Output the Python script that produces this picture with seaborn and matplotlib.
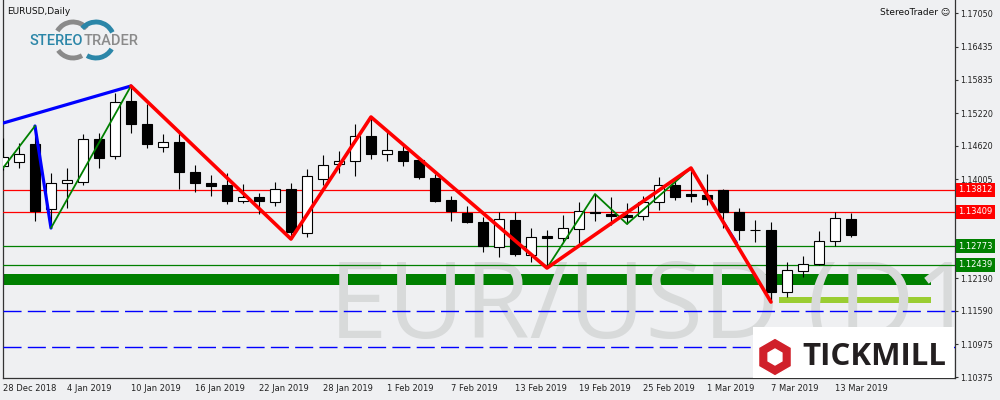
import numpy as np
import pandas as pd
import matplotlib.pyplot as plt
import seaborn as sns
from matplotlib.patches import Rectangle, RegularPolygon, Arc
from matplotlib.transforms import blended_transform_factory, IdentityTransform

# EURUSD daily candles, 28 Dec 2018 .. 14 Mar 2019 (one entry per trading day)
opens = [1.14248, 1.14321, 1.14652, 1.13459, 1.13936, 1.13954, 1.14743, 1.14431, 1.15441, 1.15019,
         1.14597, 1.14688, 1.14138, 1.13936, 1.13899, 1.13606, 1.13679, 1.13587, 1.13826, 1.13018,
         1.14009, 1.14285, 1.14340, 1.14798, 1.14468, 1.14523, 1.14358, 1.14028, 1.13624, 1.13385,
         1.13220, 1.12762, 1.13257, 1.12615, 1.12963, 1.12927, 1.13092, 1.13404, 1.13367, 1.13349,
         1.13330, 1.13587, 1.13899, 1.13734, 1.13716, 1.13808, 1.13404, 1.13074, 1.13074, 1.11936,
         1.12321, 1.12450, 1.12872, 1.13275]
highs = [1.14762, 1.14670, 1.14982, 1.14119, 1.14211, 1.14835, 1.14853, 1.15587, 1.15716, 1.15386,
         1.14835, 1.14853, 1.14266, 1.14083, 1.14119, 1.13918, 1.13752, 1.13954, 1.13936, 1.14193,
         1.14450, 1.14523, 1.15019, 1.15147, 1.14909, 1.14633, 1.14413, 1.14101, 1.13697, 1.13514,
         1.13312, 1.13404, 1.13404, 1.13110, 1.13074, 1.13349, 1.13587, 1.13734, 1.13679, 1.13569,
         1.13697, 1.14046, 1.14028, 1.14211, 1.14101, 1.13830, 1.13477, 1.13257, 1.13220, 1.12486,
         1.12596, 1.13055, 1.13404, 1.13385]
lows = [1.14175, 1.14211, 1.13239, 1.13110, 1.13477, 1.13899, 1.14211, 1.14376, 1.14853, 1.14578,
        1.14505, 1.13826, 1.13771, 1.13697, 1.13551, 1.13569, 1.13367, 1.13514, 1.12908, 1.12945,
        1.13899, 1.14119, 1.14064, 1.14376, 1.14340, 1.14248, 1.14009, 1.13587, 1.13239, 1.13202,
        1.12670, 1.12578, 1.12596, 1.12486, 1.12376, 1.12853, 1.12798, 1.13239, 1.13165, 1.13184,
        1.13257, 1.13441, 1.13624, 1.13587, 1.13532, 1.13110, 1.12890, 1.12853, 1.11752, 1.11844,
        1.12211, 1.12440, 1.12780, 1.12945]
closes = [1.14413, 1.14468, 1.13422, 1.13936, 1.13991, 1.14743, 1.14395, 1.15422, 1.15019, 1.14652,
          1.14688, 1.14138, 1.13936, 1.13881, 1.13606, 1.13679, 1.13606, 1.13826, 1.13037, 1.14064,
          1.14266, 1.14340, 1.14798, 1.14468, 1.14542, 1.14340, 1.14046, 1.13606, 1.13422, 1.13220,
          1.12780, 1.13275, 1.12633, 1.12945, 1.12927, 1.13110, 1.13422, 1.13385, 1.13330, 1.13312,
          1.13587, 1.13899, 1.13679, 1.13697, 1.13642, 1.13404, 1.13074, 1.13070, 1.11936, 1.12340,
          1.12450, 1.12872, 1.13294, 1.12982]

date_labels = ["28 Dec 2018", "4 Jan 2019", "10 Jan 2019", "16 Jan 2019", "22 Jan 2019",
               "28 Jan 2019", "1 Feb 2019", "7 Feb 2019", "13 Feb 2019", "19 Feb 2019",
               "25 Feb 2019", "1 Mar 2019", "7 Mar 2019", "13 Mar 2019"]
date_bars = [0, 4, 8, 12, 16, 20, 24, 28, 32, 36, 40, 44, 48, 52]

price_ticks = [1.17050, 1.16435, 1.15835, 1.15220, 1.14620, 1.14005,
               1.12190, 1.11590, 1.10975, 1.10375]

# zigzag swings (bar index, price)
red_x = [8, 18, 23, 34, 43, 48]
red_y = [1.15716, 1.12908, 1.15147, 1.12376, 1.14211, 1.11752]
blue_x = [-1, 8]
blue_y = [1.14950, 1.15716]
blue2_x = [2, 3]
blue2_y = [1.14982, 1.13110]
blue3_x = [44.4, 45.9]
blue3_y = [1.13530, 1.12840]
green_x = [0, 2]
green_y = [1.14211, 1.14982]
green2_x = [3, 8]
green2_y = [1.13110, 1.15716]
green3_x = [34, 37, 39, 43]
green3_y = [1.12376, 1.13734, 1.13184, 1.14211]

# horizontal levels
red_levels = [1.13812, 1.13409]
green_levels = [1.12773, 1.12439]
dashed_levels = [1.11590, 1.10927]
zone_dark = [1.12064, 1.12266]
zone_light = [1.11740, 1.11850]

bg = "#eff0f2"
sns.set_style("white", {"axes.facecolor": bg, "figure.facecolor": bg,
                        "axes.edgecolor": "#333333"})
plt.rcParams["font.family"] = ["DejaVu Sans"]

fig = plt.figure(figsize=(10, 4), dpi=100)
ax = fig.add_axes([2.5 / 1000, 22 / 400, 952.5 / 1000, 378 / 400])
ax.set_xlim(-0.03, 59.5)
ax.set_ylim(1.10358, 1.17294)

# zones
ax.fill_between([-1, 58.0], zone_dark[0], zone_dark[1], color="#008000", lw=0, zorder=1)
ax.fill_between([48.5, 58.0], zone_light[0], zone_light[1], color="#9acd32", lw=0, zorder=1)

# watermark
ax.text(0.3425, 0.1058, "EUR/USD (D1)", transform=ax.transAxes, fontsize=76,
        family="Open Sans", color="#d8dada", va="baseline", ha="left", zorder=2, clip_on=True)

for lv in red_levels:
    ax.axhline(lv, color="red", lw=0.9, zorder=3)
for lv in green_levels:
    ax.axhline(lv, color="#008000", lw=0.9, zorder=3)
for lv in dashed_levels:
    ax.axhline(lv, color="blue", lw=1.0, ls=(0, (13, 4.5)), zorder=3)

# candles
df = pd.DataFrame({"o": opens, "h": highs, "l": lows, "c": closes})
df["x"] = np.arange(len(df))
ax.vlines(df["x"], df["l"], df["h"], color="black", lw=0.8, zorder=4)
up = df["c"] >= df["o"]
body = (df["c"] - df["o"]).abs().clip(lower=0.00002)
ax.bar(df["x"], body, bottom=df[["o", "c"]].min(axis=1), width=0.66,
       color=np.where(up, "white", "black"), edgecolor="black", lw=0.8, zorder=4)

# zigzags
sns.lineplot(x=blue_x, y=blue_y, color="blue", lw=2.3, sort=False, estimator=None, ax=ax, zorder=5)
sns.lineplot(x=blue2_x, y=blue2_y, color="blue", lw=2.3, sort=False, estimator=None, ax=ax, zorder=5)
sns.lineplot(x=green_x, y=green_y, color="green", lw=1.3, sort=False, estimator=None, ax=ax, zorder=5)
sns.lineplot(x=green2_x, y=green2_y, color="green", lw=1.3, sort=False, estimator=None, ax=ax, zorder=5)
sns.lineplot(x=green3_x, y=green3_y, color="green", lw=1.3, sort=False, estimator=None, ax=ax, zorder=5)
sns.lineplot(x=blue3_x, y=blue3_y, color="blue", lw=1.0, sort=False, estimator=None, ax=ax, zorder=5)
sns.lineplot(x=red_x, y=red_y, color="red", lw=2.6, sort=False, estimator=None, ax=ax, zorder=6)

# axes styling
ax.spines["top"].set_visible(False)
for s in ["left", "right", "bottom"]:
    ax.spines[s].set_linewidth(0.9)
ax.yaxis.tick_right()
ax.set_yticks(price_ticks)
ax.set_yticklabels([f"{p:.5f}" for p in price_ticks])
ax.set_xticks(date_bars)
ax.set_xticklabels(date_labels, ha="left")
ax.tick_params(axis="both", direction="out", length=2.5, width=0.8, color="#333333",
               labelsize=6, labelcolor="#222222", pad=1.5)
ax.tick_params(axis="y", labelsize=5.8)
ax.set_xlabel("")
ax.set_ylabel("")

# coloured price labels on the scale
tr = blended_transform_factory(ax.transAxes, ax.transData)
for lv in red_levels:
    ax.text(1.0035, lv, f"{lv:.5f}", transform=tr, fontsize=6, color="white", va="center",
            ha="left", bbox=dict(boxstyle="square,pad=0.3", fc="red", ec="none"))
for lv in green_levels:
    ax.text(1.0035, lv, f"{lv:.5f}", transform=tr, fontsize=6, color="white", va="center",
            ha="left", bbox=dict(boxstyle="square,pad=0.3", fc="#008000", ec="none"))

# header texts
fig.text(7 / 1000, 1 - 11 / 400, "EURUSD,Daily", fontsize=6.5, color="#111111", va="center")
fig.text(950 / 1000, 1 - 12 / 400, "StereoTrader \u263a", fontsize=6.5, color="#111111",
         va="center", ha="right")

# StereoTrader logo
fig.add_artist(Arc((73, 360), 36, 36, theta1=40, theta2=150, color="#8a8a8a", lw=3.5,
                   transform=IdentityTransform()))
fig.add_artist(Arc((73, 360), 36, 36, theta1=215, theta2=300, color="#8a8a8a", lw=3.5,
                   transform=IdentityTransform()))
fig.add_artist(Arc((96, 360), 36, 36, theta1=25, theta2=140, color="#2b86a8", lw=3.5,
                   transform=IdentityTransform()))
fig.add_artist(Arc((96, 360), 36, 36, theta1=240, theta2=330, color="#2b86a8", lw=3.5,
                   transform=IdentityTransform()))
fig.text(29 / 1000, 1 - 41 / 400, "STEREO", fontsize=10.5, color="#2b86a8", weight="medium",
         family="Roboto", va="center", ha="left")
fig.text(138 / 1000, 1 - 41 / 400, "TRADER", fontsize=10.5, color="#8a8a8a", weight="medium",
         family="Roboto", va="center", ha="right")

# Tickmill logo box
fig.add_artist(Rectangle((753, 22), 201, 51, fc="white", ec="none", transform=IdentityTransform()))
fig.add_artist(RegularPolygon((775, 43), 6, radius=19, orientation=0, fc="#d0202a",
                              transform=IdentityTransform()))
fig.add_artist(RegularPolygon((775, 43), 6, radius=8, orientation=0, fc="white",
                              transform=IdentityTransform()))
fig.text(802 / 1000, 43 / 400, "TICKMILL", fontsize=22.5, weight="bold", color="#231f20",
         family=["Open Sans", "DejaVu Sans"], va="center", ha="left")

fig.savefig("out.png", dpi=100, facecolor=bg)
